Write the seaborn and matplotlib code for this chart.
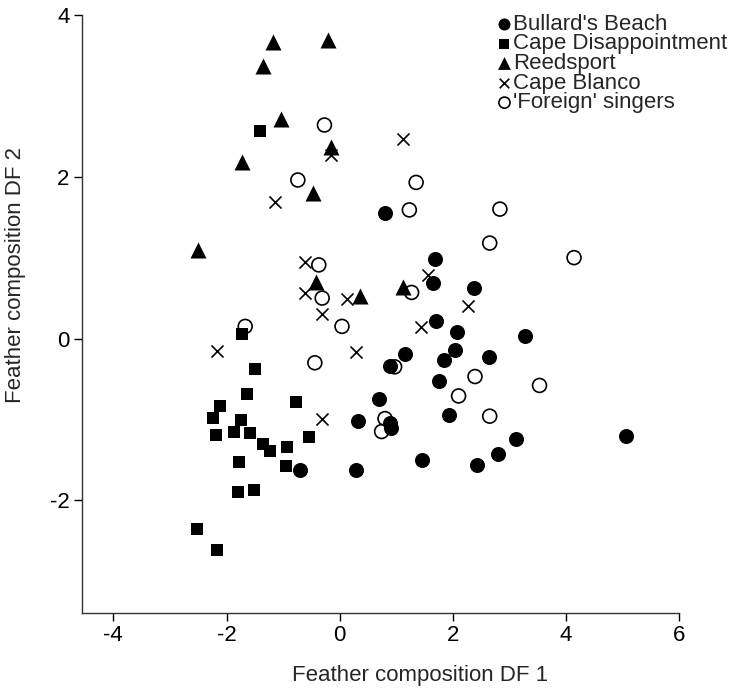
import matplotlib.pyplot as plt
import seaborn as sns

# Bullard's Beach (filled circles)
bullards_x = [0.80, 1.68, 1.65, 2.37, 1.70, 2.07, 3.27, 1.15, 2.03, 1.84, 2.64, 0.88, 1.75,
              0.69, 0.32, 0.88, 0.91, 1.93, 3.12, 5.05, 2.80, 1.46, 2.43, -0.71, 0.28]
bullards_y = [1.55, 0.98, 0.69, 0.62, 0.22, 0.08, 0.03, -0.19, -0.14, -0.26, -0.23, -0.34, -0.53,
              -0.75, -1.02, -1.05, -1.11, -0.95, -1.24, -1.21, -1.43, -1.50, -1.56, -1.62, -1.62]

# Cape Disappointment (filled squares)
cape_dis_x = [-1.40, -1.73, -1.50, -1.64, -2.12, -0.78, -2.24, -1.74, -2.18, -1.86, -1.58,
              -1.36, -1.24, -0.94, -0.54, -1.78, -0.95, -1.80, -1.52, -2.53, -2.16]
cape_dis_y = [2.56, 0.06, -0.38, -0.68, -0.84, -0.78, -0.98, -1.01, -1.19, -1.15, -1.17,
              -1.31, -1.39, -1.34, -1.22, -1.53, -1.57, -1.90, -1.87, -2.36, -2.62]

# Reedsport (filled triangles)
reedsport_x = [-1.18, -0.21, -1.36, -1.03, -0.15, -1.73, -0.48, -2.51, -0.42, 0.35, 1.12]
reedsport_y = [3.67, 3.69, 3.37, 2.72, 2.37, 2.18, 1.80, 1.10, 0.70, 0.52, 0.64]

# Cape Blanco (crosses)
blanco_x = [-0.15, -1.15, -0.61, -0.62, -0.31, 0.12, 1.12, 1.56, 2.27, 1.44, -2.17, 0.28, -0.31]
blanco_y = [2.27, 1.69, 0.94, 0.56, 0.30, 0.49, 2.47, 0.79, 0.40, 0.14, -0.16, -0.17, -0.99]

# 'Foreign' singers (open circles)
foreign_x = [-0.27, -0.74, -0.37, -0.31, -1.67, 0.04, 1.35, 1.23, 2.83, 2.65, 4.14, 1.27,
             -0.44, 2.39, 3.53, 2.10, 2.65, 0.97, 0.80, 0.74]
foreign_y = [2.64, 1.96, 0.91, 0.50, 0.15, 0.15, 1.93, 1.59, 1.60, 1.18, 1.00, 0.57,
             -0.30, -0.47, -0.58, -0.71, -0.96, -0.35, -0.99, -1.15]

legend_order = ["Bullard's Beach", 'Cape Disappointment', 'Reedsport', 'Cape Blanco',
                "'Foreign' singers"]

sns.set_style('ticks')
plt.rcParams['font.family'] = ['Liberation Sans', 'DejaVu Sans']
plt.rcParams['font.size'] = 16
plt.rcParams['axes.unicode_minus'] = False

fig = plt.figure(figsize=(7.34, 6.91), dpi=100)
ax = fig.add_axes([0.112, 0.1133, 0.8135, 0.865])

# open circles go underneath the filled markers
sns.scatterplot(x=foreign_x, y=foreign_y, ax=ax, marker='o', s=100,
                facecolor='none', edgecolor='black', linewidth=1.2,
                label="'Foreign' singers", legend=False)
sns.scatterplot(x=bullards_x, y=bullards_y, ax=ax, marker='o', s=117,
                color='black', linewidth=0, label="Bullard's Beach", legend=False)
sns.scatterplot(x=cape_dis_x, y=cape_dis_y, ax=ax, marker='s', s=80,
                color='black', linewidth=0, label='Cape Disappointment', legend=False)
sns.scatterplot(x=reedsport_x, y=reedsport_y, ax=ax, marker='^', s=133,
                color='black', linewidth=0, label='Reedsport', legend=False)
sns.scatterplot(x=blanco_x, y=blanco_y, ax=ax, marker='x', s=75,
                color='black', linewidth=1.2, label='Cape Blanco', legend=False)

ax.set_xlim(-4.55, 6)
ax.set_ylim(-3.39, 4)
ax.set_xticks([-4, -2, 0, 2, 4, 6])
ax.set_yticks([-2, 0, 2, 4])
ax.tick_params(direction='out', length=6, width=1, pad=3, colors='black')

for side in ['top', 'right']:
    ax.spines[side].set_visible(False)
for side in ['left', 'bottom']:
    ax.spines[side].set_color('#333333')
    ax.spines[side].set_linewidth(1)

ax.set_xlabel('Feather composition DF 1')
ax.set_ylabel('Feather composition DF 2')
ax.xaxis.set_label_coords(0.565, -0.088)
ax.yaxis.set_label_coords(-0.094, 0.565)

handles, labels = ax.get_legend_handles_labels()
lookup = dict(zip(labels, handles))
ax.legend([lookup[k] for k in legend_order], legend_order,
          loc='upper left', bbox_to_anchor=(0.696, 1.002), frameon=False,
          borderpad=0, borderaxespad=0, labelspacing=-0.06, handlelength=0.6,
          handletextpad=0.1, markerscale=0.8)

fig.savefig('out.png', dpi=100)
